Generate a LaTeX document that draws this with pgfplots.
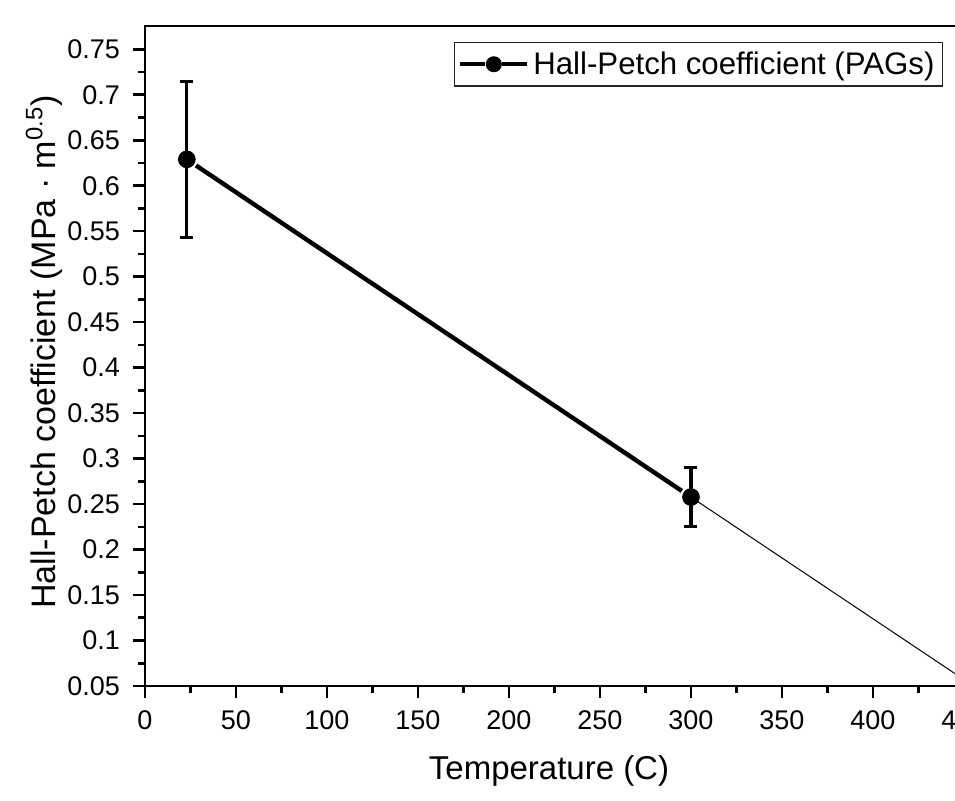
\documentclass[border=0pt]{standalone}
\usepackage{fontspec}
\setmainfont{Liberation Sans}
\usepackage{pgfplots}
\pgfplotsset{compat=1.18}
\begin{document}
\begin{tikzpicture}
\path[use as bounding box, clip] (-72.5pt,-57.5pt) rectangle (405pt,343pt);
\begin{axis}[
  at={(0,0)}, anchor=south west,
  scale only axis, width=427.7pt, height=330pt,
  xmin=0, xmax=470, ymin=0.05, ymax=0.7756,
  xtick={0,50,100,150,200,250,300,350,400,450},
  ytick={0.05,0.1,0.15,0.2,0.25,0.3,0.35,0.4,0.45,0.5,0.55,0.6,0.65,0.7,0.75},
  minor x tick num=1, minor y tick num=1,
  tick align=outside, xtick pos=left, ytick pos=left,
  axis line style={line width=1.3pt},
  every tick/.style={black, line width=1.3pt},
  major tick length=6pt, minor tick length=3.5pt,
  ticklabel style={font=\fontsize{13.5}{13.5}\selectfont},
  /pgf/number format/assume math mode=true,
  yticklabel style={xshift=-3pt, /pgf/number format/.cd, fixed, precision=2},
  xticklabel style={yshift=-3pt, /pgf/number format/.cd, fixed},
  xlabel={Temperature (C)},
  xlabel style={at={(axis description cs:0.4723,-0.1424)}, anchor=base, font=\fontsize{16.5}{16.5}\selectfont},
  ylabel={Hall-Petch coefficient (MPa · m\textsuperscript{0.5})},
  ylabel style={at={(axis description cs:-0.1052,0.506)}, anchor=base, rotate=0, font=\fontsize{17}{17}\selectfont},
  legend style={at={(axis description cs:0.933,0.976)}, anchor=north east, draw=black!85, line width=0.6pt, font=\fontsize{15.6}{15.6}\selectfont, inner xsep=2pt, inner ysep=2.5pt},
  legend cell align=left,
]
\addplot[black, line width=0.5pt, forget plot] coordinates {(300,0.2577) (450,0.0570)};
\addplot[black, line width=2.2pt, shorten <=5.5pt, shorten >=5.5pt, forget plot] coordinates {(23,0.629) (300,0.2577)};
\addplot[black, only marks, mark=*, mark size=4.2pt,
  legend image code/.code={
    \draw[black, line width=2pt] (0pt,0pt) -- (12.5pt,0pt);
    \draw[black, line width=2pt] (21pt,0pt) -- (33.5pt,0pt);
    \fill[black] (16.75pt,0pt) circle (3.7pt);
  },
  error bars/.cd, y dir=both, y explicit,
  error bar style={line width=1.6pt},
  error mark options={rotate=90, mark size=3.25pt, line width=1.6pt},
  ] coordinates {(23,0.629) +- (0,0.086) (300,0.2577) +- (0,0.0325)};
\addlegendentry{Hall-Petch coefficient (PAGs)}
\end{axis}
\end{tikzpicture}
\end{document}
